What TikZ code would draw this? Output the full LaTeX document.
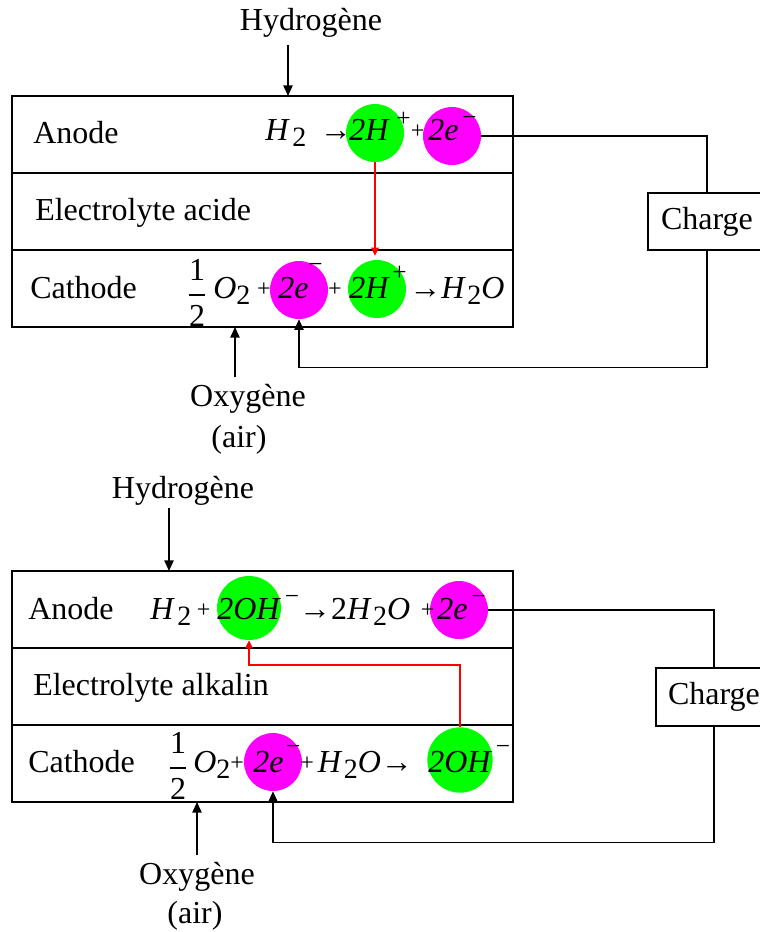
\documentclass[tikz,border=0pt]{standalone}
\usepackage{amsmath}
\usepackage{fontspec}
\setmainfont{Liberation Serif}
\usepackage{tikz}
\usetikzlibrary{arrows.meta,positioning}
\definecolor{ionGreen}{HTML}{00FF00}
\definecolor{ionPink}{HTML}{FF00FF}
\definecolor{flowRed}{HTML}{FF0000}
\newcommand{\dn}[1]{\raisebox{-5pt}{\fontsize{21}{21}\selectfont #1}}
\newcommand{\up}[2][10pt]{\raisebox{#1}{\fontsize{19}{19}\selectfont #2}}
\newcommand{\pl}{\raisebox{1.5pt}{\fontsize{18}{18}\selectfont +}}
\tikzset{
  layer/.style={rectangle, draw, line width=1.3pt, outer sep=0pt, minimum width=375.75pt, minimum height=57.75pt},
  charge/.style={rectangle, draw, line width=1.1pt, fill=white, inner sep=0pt, minimum width=88.5pt, minimum height=42.75pt},
  lbl/.style={inner sep=0pt, anchor=base west},
  gas/.style={inner sep=0pt, anchor=base},
  ion/.style={circle, inner sep=0pt, minimum size=43.5pt},
  wire/.style={line width=1.1pt},
  arrow/.style={line width=1.1pt, -{Triangle[length=8pt,width=7pt]}},
  redarrow/.style={line width=1.1pt, draw=flowRed, -{Triangle[length=6pt,width=5.5pt]}}
}

\begin{document}
\begin{tikzpicture}[x=0.75pt,y=-0.75pt,font=\fontsize{24}{28}\selectfont]
\useasboundingbox (0,0) rectangle (760,932);
\clip (0,0) rectangle (760,932);

% acid cell
\node[layer] (an1) at (262.5,134.5) {};
\node[layer, below=0pt of an1] (el1) {};
\node[layer, below=0pt of el1] (ca1) {};
\node[lbl] (an1lbl) at (33,143) {Anode};
\node[lbl] (el1lbl) at (35,220) {Electrolyte acide};
\node[lbl] (ca1lbl) at (30,298) {Cathode};

\node[ion, fill=ionGreen] (a1hp) at (375,133) {};
\node[ion, fill=ionPink] (a1e) at (452,136) {};
\node[ion, fill=ionPink] (c1e) at (299,290) {};
\node[ion, fill=ionGreen] (c1hp) at (377,289) {};

\node[lbl] (a1t1) at (265,140) {\textit{H}\kern2pt\dn{2}\kern10pt→};
\node[lbl] (a1t2) at (349,140) {\textit{2H}\kern5pt\up{+}\kern0pt\pl};
\node[lbl] (a1t3) at (428,140) {\textit{2e}\kern3pt\up[11pt]{−}};
\node[inner sep=0pt] (c1half) at (197,293) {$\dfrac{\textrm{1}}{\textrm{2}}$};
\node[lbl] (c1t1) at (213,298) {\textit{O}\dn{2}\kern5pt\pl};
\node[lbl] (c1t2) at (278,298) {\textit{2e}\up[19pt]{−}\kern4pt\pl};
\node[lbl] (c1t3) at (349,298) {\textit{2H}\kern2pt\up[13pt]{+}\kern2pt→\textit{H}\kern1pt\dn{2}\textit{O}};

\node[charge] (chg1) at (707,221.5) {Charge};
\node[gas] (h2in1) at (311,30) {Hydrogène};
\node[gas] (o2in1) at (248,406) {Oxygène};
\node[gas] (air1) at (239,447) {(air)};
\coordinate (h2a1) at (288,45);
\coordinate (o2a1) at (235,377);

\draw[arrow] (h2a1) -- (h2a1 |- an1.north);
\draw[arrow] (o2a1) -- (o2a1 |- ca1.south);
\draw[wire] (a1e.east) -| (chg1.north);
\draw[arrow] (chg1.south) -- ++(0,117) -| (c1e.south);
\draw[redarrow, shorten >=3pt] (a1hp.south) -- (a1hp.south |- c1hp.north);

% alkaline cell
\node[layer] (an2) at (262.5,609.5) {};
\node[layer, below=0pt of an2] (el2) {};
\node[layer, below=0pt of el2] (ca2) {};
\node[lbl] (an2lbl) at (28,619) {Anode};
\node[lbl] (el2lbl) at (33,695) {Electrolyte alkalin};
\node[lbl] (ca2lbl) at (28,772) {Cathode};

\node[ion, fill=ionGreen, minimum size=48pt] (a2oh) at (249,608) {};
\node[ion, fill=ionPink] (a2e) at (459,610) {};
\node[ion, fill=ionPink] (c2e) at (273,762) {};
\node[ion, fill=ionGreen, minimum size=49pt] (c2oh) at (460,760) {};

\node[lbl] (a2t1) at (150,619) {\textit{H}\kern2pt\dn{2}\kern4pt\pl};
\node[lbl] (a2t2) at (217,619) {\textit{2OH}\kern3pt\up[11pt]{−}→2\textit{H}\kern1pt\dn{2}\textit{O}\kern8pt\pl};
\node[lbl] (a2t3) at (437,619) {\textit{2e}\kern3pt\up[11pt]{−}};
\node[inner sep=0pt] (c2half) at (178,766) {$\dfrac{\textrm{1}}{\textrm{2}}$};
\node[lbl] (c2t1) at (193,772) {\textit{O}\dn{2}\pl};
\node[lbl] (c2t2) at (253,772) {\textit{2e}\kern2pt\up[13pt]{−}\pl\kern3pt\textit{H}\kern1pt\dn{2}\textit{O}→};
\node[lbl] (c2t3) at (428,772) {\textit{2OH}\kern3pt\up[13pt]{−}};

\node[charge, minimum width=87pt, minimum height=43.5pt] (chg2) at (714,697) {Charge};
\node[gas] (h2in2) at (183,498) {Hydrogène};
\node[gas] (o2in2) at (197,884) {Oxygène};
\node[gas] (air2) at (195,923) {(air)};
\coordinate (h2a2) at (169,508);
\coordinate (o2a2) at (197,855);

\draw[arrow] (h2a2) -- (h2a2 |- an2.north);
\draw[arrow] (o2a2) -- (o2a2 |- ca2.south);
\draw[wire] (a2e.east) -| (chg2.north);
\draw[arrow] (chg2.south) -- ++(0,116) -| (c2e.south);
\draw[redarrow] (c2oh.north) -- ++(0,-62) -| (a2oh.south);

\end{tikzpicture}
\end{document}
